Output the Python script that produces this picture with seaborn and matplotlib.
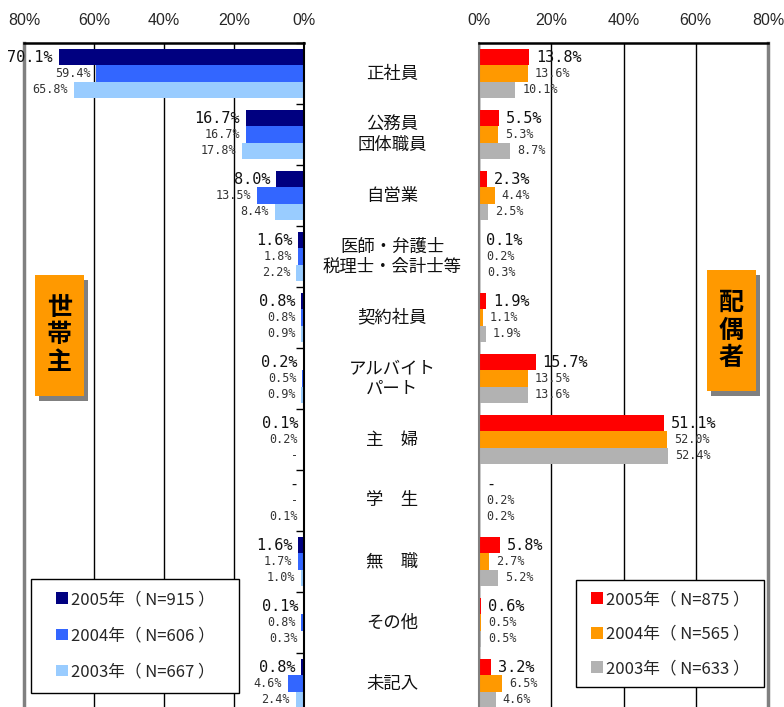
import numpy as np
import pandas as pd
import seaborn as sns
import matplotlib.pyplot as plt
from matplotlib.patches import Rectangle
from matplotlib.transforms import blended_transform_factory

categories = ['正社員', '公務員\n団体職員', '自営業', '医師・弁護士\n税理士・会計士等', '契約社員',
              'アルバイト\nパート', '主　婦', '学　生', '無　職', 'その他', '未記入']

head_years = ['2005年（ N=915 ）', '2004年（ N=606 ）', '2003年（ N=667 ）']
head_2005 = [70.1, 16.7, 8.0, 1.6, 0.8, 0.2, 0.1, None, 1.6, 0.1, 0.8]
head_2004 = [59.4, 16.7, 13.5, 1.8, 0.8, 0.5, 0.2, None, 1.7, 0.8, 4.6]
head_2003 = [65.8, 17.8, 8.4, 2.2, 0.9, 0.9, None, 0.1, 1.0, 0.3, 2.4]

spouse_years = ['2005年（ N=875 ）', '2004年（ N=565 ）', '2003年（ N=633 ）']
spouse_2005 = [13.8, 5.5, 2.3, 0.1, 1.9, 15.7, 51.1, None, 5.8, 0.6, 3.2]
spouse_2004 = [13.6, 5.3, 4.4, 0.2, 1.1, 13.5, 52.0, 0.2, 2.7, 0.5, 6.5]
spouse_2003 = [10.1, 8.7, 2.5, 0.3, 1.9, 13.6, 52.4, 0.2, 5.2, 0.5, 4.6]

head_colors = ['#000080', '#3366FF', '#99CCFF']
spouse_colors = ['#FF0000', '#FF9900', '#B2B2B2']


def make_df(years, series):
    rows = []
    for year, vals in zip(years, series):
        for cat, v in zip(categories, vals):
            rows.append({'category': cat, 'year': year,
                         'value': 0.0 if v is None else v,
                         'label': '-' if v is None else f'{v:.1f}%'})
    return pd.DataFrame(rows)


head = make_df(head_years, [head_2005, head_2004, head_2003])
spouse = make_df(spouse_years, [spouse_2005, spouse_2004, spouse_2003])

sns.set_style('white')
plt.rcParams['font.family'] = ['Noto Sans CJK JP', 'DejaVu Sans']

W, H = 784, 707
fig = plt.figure(figsize=(W / 100, H / 100), dpi=100)
top = 43
bottom = 714
axL = fig.add_axes([24 / W, 1 - bottom / H, 280 / W, (bottom - top) / H])
axR = fig.add_axes([479 / W, 1 - bottom / H, 289 / W, (bottom - top) / H])


def draw(ax, df, years, colors, side):
    sns.barplot(data=df, x='value', y='category', hue='year', order=categories,
                hue_order=years, palette=colors, saturation=1, errorbar=None,
                orient='h', width=0.8, linewidth=0, ax=ax)
    if side == 'left':
        ax.set_xlim(80, 0)
    else:
        ax.set_xlim(0, 80)
    ax.set_xlabel('')
    ax.set_ylabel('')
    ax.xaxis.tick_top()
    ax.set_xticks([0, 20, 40, 60, 80])
    ax.set_xticklabels([f'{v}%' for v in [0, 20, 40, 60, 80]], family='Liberation Sans')
    ax.tick_params(axis='x', length=0, pad=11, labelsize=11.5)
    ax.grid(axis='x', color='black', lw=1)
    ax.set_axisbelow(True)
    ax.spines['bottom'].set_visible(False)
    ax.spines['top'].set_color('black')
    ax.spines['top'].set_linewidth(1.8)

    for k, (cont, year) in enumerate(zip(ax.containers, years)):
        labels = df[df['year'] == year].set_index('category').loc[categories, 'label']
        for patch, lab in zip(cont.patches, labels):
            y = patch.get_y() + patch.get_height() / 2
            x = patch.get_width()
            size = 11 if k == 0 else 8.5
            color = '#111111' if k == 0 else '#333333'
            if side == 'left':
                ax.annotate(lab, (x, y), xytext=(-4, 0), textcoords='offset points',
                            ha='right', va='center', fontsize=size, color=color,
                            family='DejaVu Sans Mono')
            else:
                ax.annotate(lab, (x, y), xytext=(5, 0), textcoords='offset points',
                            ha='left', va='center', fontsize=size, color=color,
                            family='DejaVu Sans Mono')


draw(axL, head, head_years, head_colors, 'left')
draw(axR, spouse, spouse_years, spouse_colors, 'right')

# left panel frame
axL.spines['left'].set_color('#808080')
axL.spines['left'].set_linewidth(2.5)
axL.spines['right'].set_color('black')
axL.spines['right'].set_linewidth(1.5)
axL.yaxis.tick_right()
axL.set_yticks(np.arange(-0.5, len(categories), 1))
axL.set_yticklabels([])
axL.tick_params(axis='y', direction='in', length=6, width=1, color='black', right=True, left=False)
axL.set_ylim(len(categories) - 0.5, -0.5)

# right panel frame
axR.spines['left'].set_color('#808080')
axR.spines['left'].set_linewidth(1.5)
axR.spines['right'].set_color('#808080')
axR.spines['right'].set_linewidth(2.5)
axR.set_yticks([])
axR.set_ylim(len(categories) - 0.5, -0.5)

# category labels in the middle
trans = blended_transform_factory(fig.transFigure, axL.transData)
for i, cat in enumerate(categories):
    fig.text(392 / W, i, cat, transform=trans, ha='center', va='center',
             fontsize=12.5, linespacing=1.15, multialignment='center', color='#111111')

# orange title boxes with shadow
def title_box(x0, y0, x1, y1, text):
    fig.add_artist(Rectangle(((x0 + 4) / W, 1 - (y1 + 5) / H), (x1 - x0) / W, (y1 - y0) / H,
                             transform=fig.transFigure, facecolor='#808080', edgecolor='none'))
    fig.add_artist(Rectangle((x0 / W, 1 - y1 / H), (x1 - x0) / W, (y1 - y0) / H,
                             transform=fig.transFigure, facecolor='#FF9900', edgecolor='none'))
    fig.text((x0 + x1) / 2 / W, 1 - (y0 + y1) / 2 / H, text, ha='center', va='center',
             fontsize=18, fontweight='bold', linespacing=1.2, color='black')


title_box(35, 275, 84, 396, '世\n帯\n主')
title_box(707, 270, 756, 391, '配\n偶\n者')

# legends: own frame box, legend entries inside it
legend_boxes = [(axL, (31, 579, 239, 693), (56, 591), 1.15),
                (axR, (576, 580, 764, 687), (591, 591), 1.05)]
for ax, (x0, y0, x1, y1), (lx, ly), spacing in legend_boxes:
    frame = Rectangle((x0 / W, 1 - y1 / H), (x1 - x0) / W, (y1 - y0) / H,
                      transform=fig.transFigure, facecolor='white', edgecolor='black',
                      lw=1, zorder=4.5, clip_on=False)
    ax.add_patch(frame)
    sns.move_legend(ax, 'upper left', bbox_to_anchor=(lx / W, 1 - ly / H),
                    bbox_transform=fig.transFigure, title=None, frameon=False,
                    fontsize=12, labelspacing=spacing, borderpad=0,
                    handlelength=0.7, handleheight=0.7, handletextpad=0.2,
                    borderaxespad=0)
    ax.get_legend().set_zorder(10)

fig.savefig('out.png', dpi=100)
